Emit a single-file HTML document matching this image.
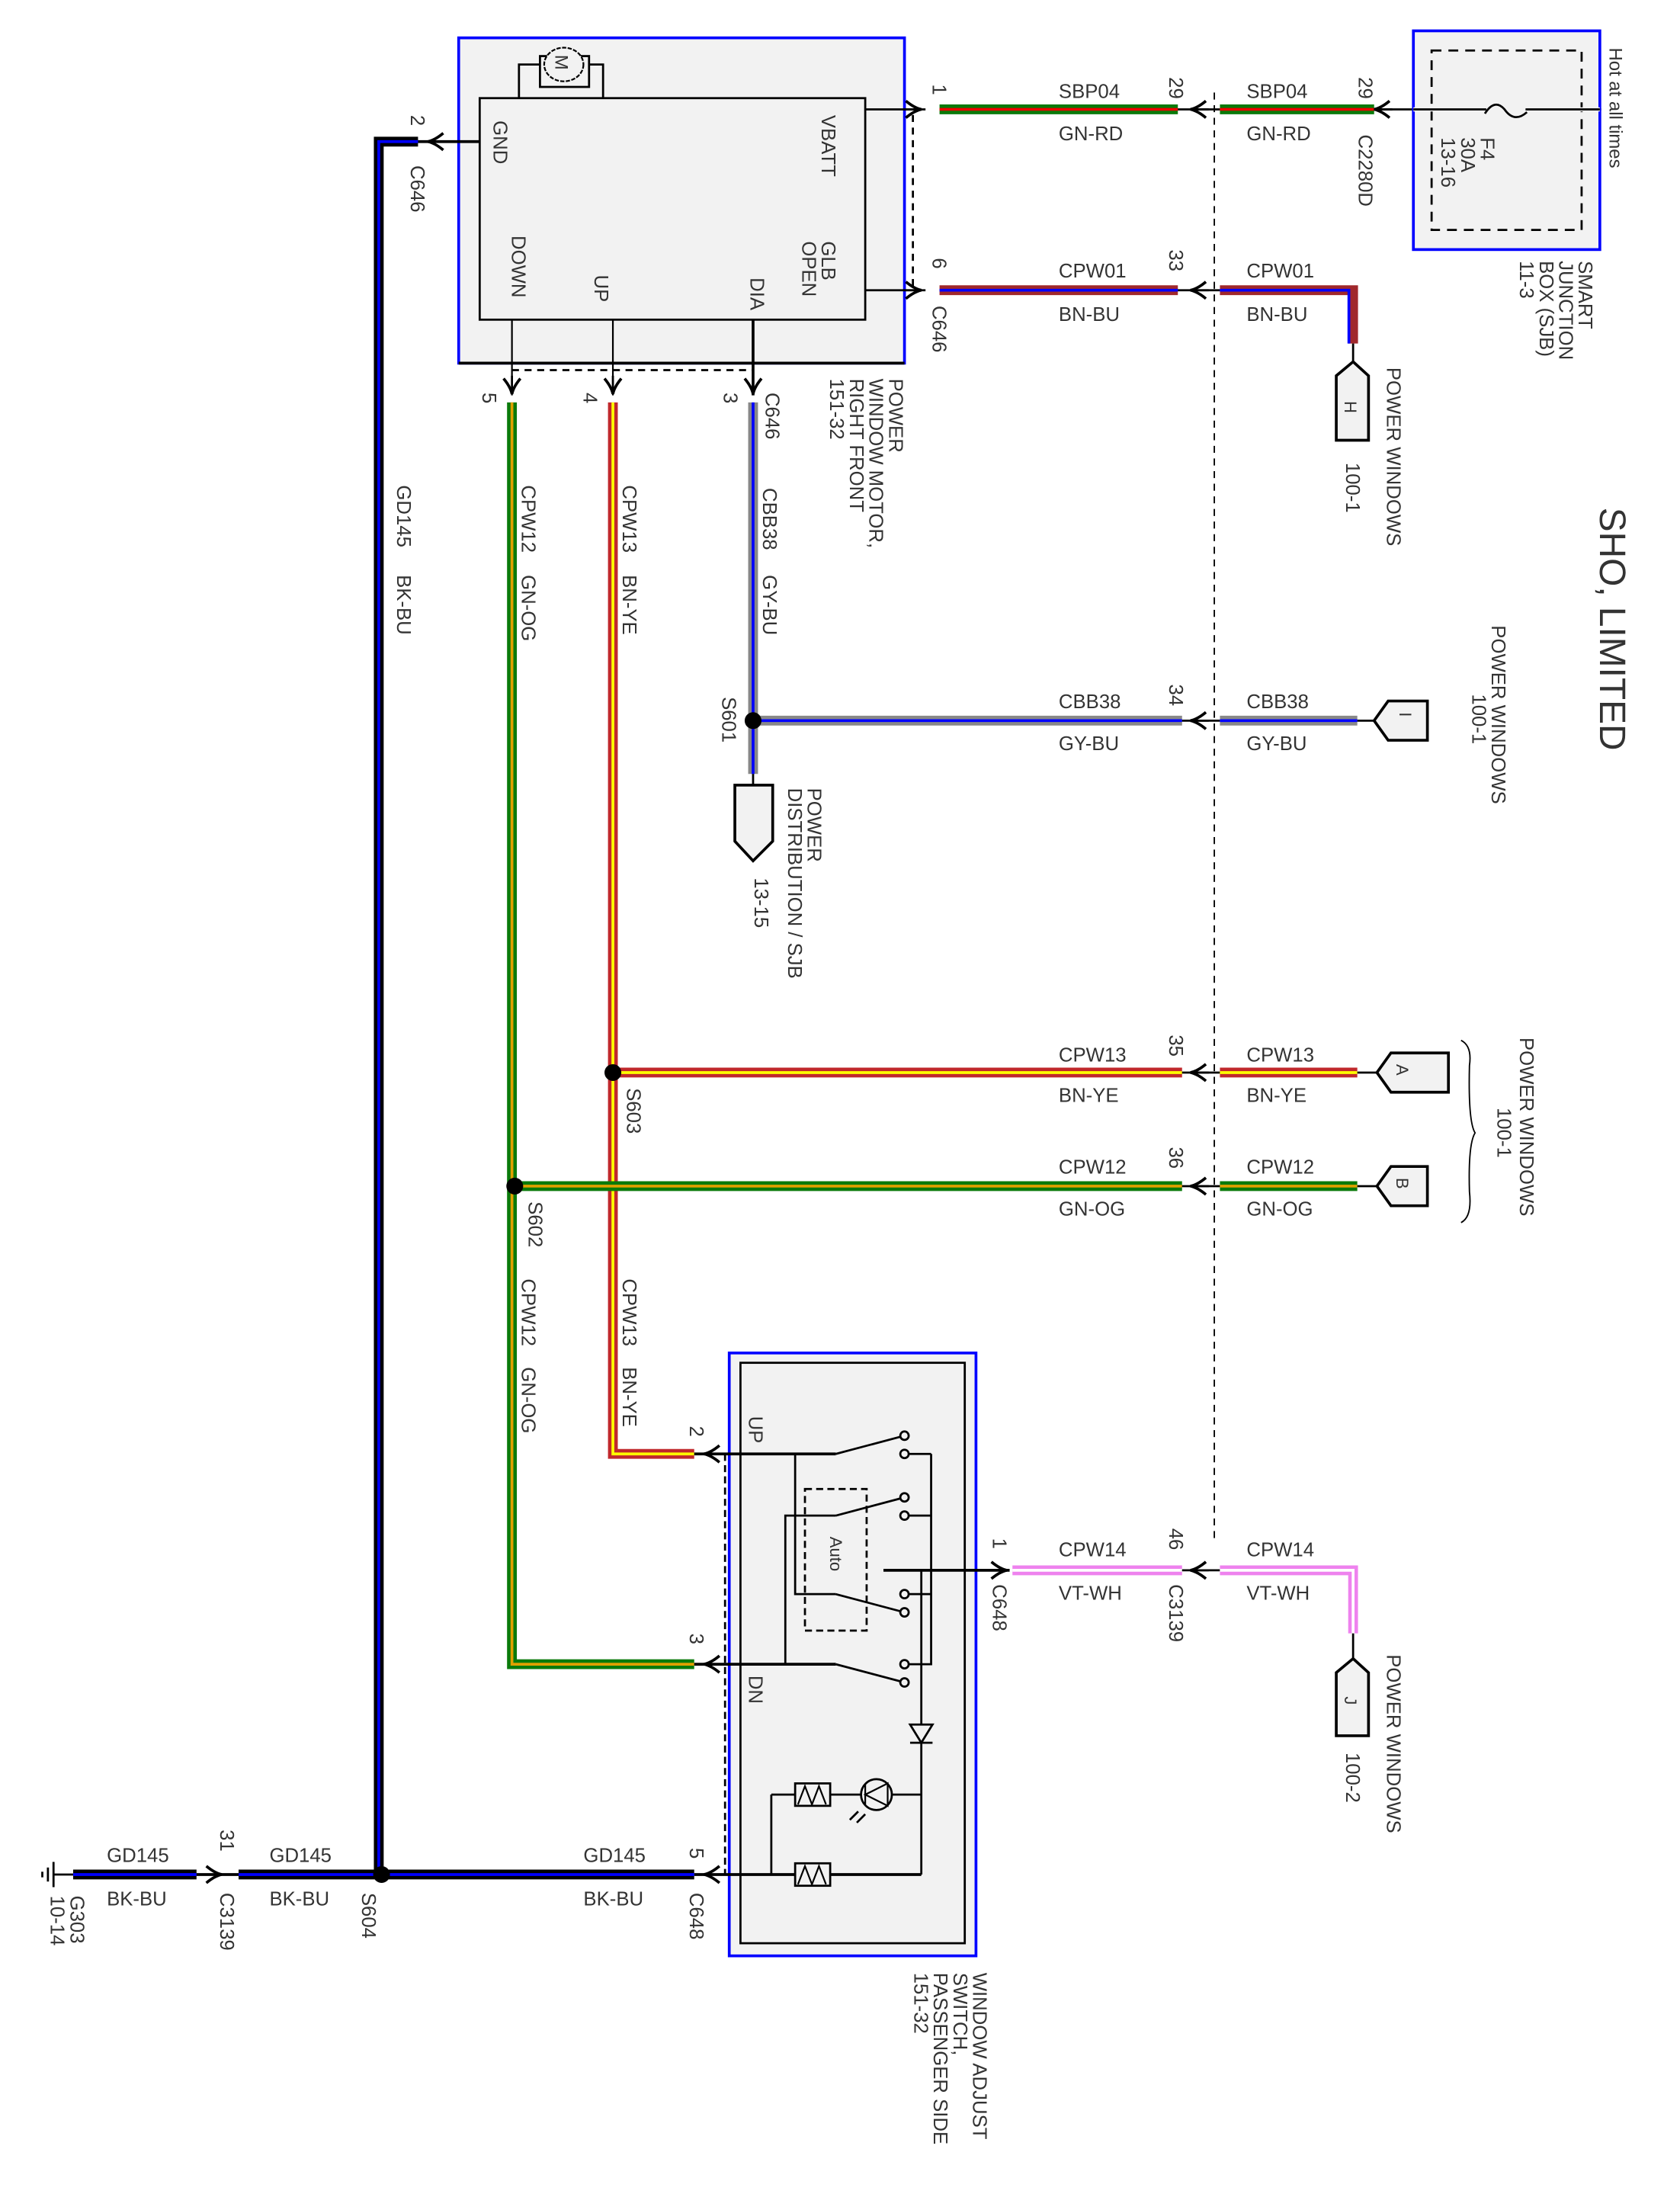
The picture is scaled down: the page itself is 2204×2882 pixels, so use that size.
<!DOCTYPE html>
<html><head><meta charset="utf-8"><style>
html,body{margin:0;padding:0;background:#fff}
svg{display:block}
text{font-family:"Liberation Sans",sans-serif;font-size:14px;fill:#333}
</style></head><body>
<svg width="2204" height="2882" viewBox="0 0 1198 1567" xmlns="http://www.w3.org/2000/svg">
<defs>
<g id="al"><path d="M8,-6 Q2,-1 -3,0 Q2,1 8,6" fill="none" stroke="#000" stroke-width="2"/><line x1="-3" y1="0" x2="10" y2="0" stroke="#000" stroke-width="1.5"/></g>
</defs>
<!-- Motor module -->
<rect x="327" y="27" width="318" height="232" fill="#f2f2f2" stroke="#0000ff" stroke-width="2"/>
<line x1="327" y1="259" x2="645" y2="259" stroke="#000" stroke-width="2"/>
<rect x="342" y="70" width="275" height="158" fill="#f2f2f2" stroke="#000" stroke-width="1.5"/>
<polyline points="370,70 370,46 385,46" fill="none" stroke="#000" stroke-width="1.5"/>
<polyline points="420,46 430,46 430,70" fill="none" stroke="#000" stroke-width="1.5"/>
<rect x="385" y="40" width="35" height="22" fill="#f2f2f2" stroke="#000" stroke-width="1.5"/>
<ellipse cx="402" cy="46" rx="14" ry="12" fill="#f2f2f2" stroke="#000" stroke-width="1.2" stroke-dasharray="3,1"/>
<text transform="translate(396,39) rotate(90)" style="font-size:13px">M</text>
<text transform="translate(362,86) rotate(90)" y="10">GND</text>
<text transform="translate(594,82) rotate(90)" y="8">VBATT</text>
<text transform="translate(594,172) rotate(90)" y="8">GLB<tspan x="0" dy="14">OPEN</tspan></text>
<text transform="translate(373,168) rotate(90)" y="8">DOWN</text>
<text transform="translate(432,196) rotate(90)" y="8">UP</text>
<text transform="translate(543,198) rotate(90)" y="8">DIA</text>
<text transform="translate(642,270) rotate(90)" y="8">POWER<tspan x="0" dy="14">WINDOW MOTOR,</tspan><tspan x="0" dy="14">RIGHT FRONT</tspan><tspan x="0" dy="14">151-32</tspan></text>
<!-- pin lines out -->
<line x1="617" y1="78" x2="660" y2="78" stroke="#000" stroke-width="1.5"/>
<line x1="617" y1="207" x2="660" y2="207" stroke="#000" stroke-width="1.5"/>
<line x1="651" y1="82" x2="651" y2="207" stroke="#000" stroke-width="1.5" stroke-dasharray="5,4"/>
<line x1="365" y1="228" x2="365" y2="282" stroke="#000" stroke-width="1.2"/>
<line x1="437" y1="228" x2="437" y2="282" stroke="#000" stroke-width="1.2"/>
<line x1="537" y1="228" x2="537" y2="282" stroke="#000" stroke-width="2"/>
<line x1="365" y1="264" x2="537" y2="264" stroke="#000" stroke-width="1.5" stroke-dasharray="5,4"/>
<use href="#al" transform="translate(654,78) rotate(180)"/>
<use href="#al" transform="translate(654,207) rotate(180)"/>
<use href="#al" transform="translate(365,278) rotate(-90)"/>
<use href="#al" transform="translate(437,278) rotate(-90)"/>
<use href="#al" transform="translate(537,278) rotate(-90)"/>
<text transform="translate(673,60) rotate(90)" y="8">1</text>
<text transform="translate(673,184) rotate(90)" y="8">6</text>
<text transform="translate(673,218) rotate(90)" y="8">C646</text>
<text transform="translate(344,280) rotate(90)">5</text>
<text transform="translate(416,280) rotate(90)">4</text>
<text transform="translate(516,280) rotate(90)">3</text>
<text transform="translate(558,280) rotate(90)" y="12">C646</text>

<!-- GND wire -->
<line x1="298" y1="101" x2="342" y2="101" stroke="#000" stroke-width="2"/>
<use href="#al" transform="translate(308,101)"/>
<text transform="translate(303,82) rotate(90)" y="10">2</text>
<text transform="translate(303,118) rotate(90)" y="10">C646</text>
<polyline points="298,101 270,101 270,1337" fill="none" stroke="#000" stroke-width="7"/>
<polyline points="298,101 270,101 270,1337" fill="none" stroke="#0000ff" stroke-width="2"/>
<text transform="translate(291,346) rotate(90)" y="8">GD145</text>
<text transform="translate(291,410) rotate(90)" y="8">BK-BU</text>

<!-- dashed vertical connector line -->
<line x1="866" y1="66" x2="866" y2="1100" stroke="#000" stroke-width="1" stroke-dasharray="5,4"/>

<!-- SBP04 -->
<line x1="670" y1="78" x2="840" y2="78" stroke="#0a7a0a" stroke-width="7"/>
<line x1="670" y1="78" x2="840" y2="78" stroke="#e00" stroke-width="2"/>
<line x1="840" y1="78" x2="870" y2="78" stroke="#000" stroke-width="1.5"/>
<use href="#al" transform="translate(852,78)"/>
<line x1="870" y1="78" x2="980" y2="78" stroke="#0a7a0a" stroke-width="7"/>
<line x1="870" y1="78" x2="980" y2="78" stroke="#e00" stroke-width="2"/>
<line x1="980" y1="78" x2="1142" y2="78" stroke="#000" stroke-width="1.5"/>
<use href="#al" transform="translate(983,78)"/>
<text x="755" y="70">SBP04</text><text x="755" y="100">GN-RD</text>
<text x="889" y="70">SBP04</text><text x="889" y="100">GN-RD</text>
<text transform="translate(842,55) rotate(90)" y="8">29</text>
<text transform="translate(977,55) rotate(90)" y="8">29</text>
<text transform="translate(977,96) rotate(90)" y="8">C2280D</text>
<!-- SJB -->
<rect x="1008" y="22" width="133" height="156" fill="#f2f2f2" stroke="#0000ff" stroke-width="2"/>
<rect x="1021" y="36" width="107" height="128" fill="none" stroke="#000" stroke-width="1.5" stroke-dasharray="7,5"/>
<line x1="1008" y1="78" x2="1141" y2="78" stroke="#f2f2f2" stroke-width="3"/>
<line x1="1008" y1="78" x2="1141" y2="78" stroke="#000" stroke-width="1.5"/>
<line x1="1060" y1="78" x2="1088" y2="78" stroke="#f2f2f2" stroke-width="3"/>
<path d="M1059,81 Q1066,70 1073,78 Q1080,88 1089,80" fill="none" stroke="#000" stroke-width="1.5"/>
<text transform="translate(1064,98) rotate(90)" y="8">F4<tspan x="0" dy="14">30A</tspan><tspan x="0" dy="14">13-16</tspan></text>
<text transform="translate(1147,34) rotate(90)" style="font-size:13px" y="-1">Hot at all times</text>
<text transform="translate(1134,186) rotate(90)" y="8">SMART<tspan x="0" dy="14">JUNCTION</tspan><tspan x="0" dy="14">BOX (SJB)</tspan><tspan x="0" dy="14">11-3</tspan></text>

<!-- CPW01 -->
<line x1="670" y1="207" x2="840" y2="207" stroke="#a0282c" stroke-width="7"/>
<line x1="670" y1="207" x2="840" y2="207" stroke="#0000ff" stroke-width="2"/>
<line x1="840" y1="207" x2="870" y2="207" stroke="#000" stroke-width="1.5"/>
<use href="#al" transform="translate(852,207)"/>
<polyline points="870,207 965,207 965,245" fill="none" stroke="#a0282c" stroke-width="7"/>
<polyline points="870,207 962,207 962,245" fill="none" stroke="#0000ff" stroke-width="2"/>
<line x1="965" y1="245" x2="965" y2="258" stroke="#000" stroke-width="1.5"/>
<path d="M965,258 L976,268 L976,314 L953,314 L953,268 Z" fill="#f2f2f2" stroke="#000" stroke-width="2"/>
<text transform="translate(959,286) rotate(90)" style="font-size:12px">H</text>
<text x="755" y="198">CPW01</text><text x="755" y="229">BN-BU</text>
<text x="889" y="198">CPW01</text><text x="889" y="229">BN-BU</text>
<text transform="translate(842,178) rotate(90)" y="8">33</text>
<text transform="translate(994,262) rotate(90)" y="5">POWER WINDOWS</text>
<text transform="translate(970,330) rotate(90)" y="10">100-1</text>

<text transform="translate(1140,362) rotate(90)" style="font-size:26px" y="-1">SHO, LIMITED</text>

<!-- CBB38 -->
<line x1="537" y1="287" x2="537" y2="552" stroke="#888" stroke-width="7"/>
<line x1="537" y1="287" x2="537" y2="552" stroke="#0000ff" stroke-width="2"/>
<line x1="537" y1="552" x2="537" y2="560" stroke="#000" stroke-width="1.5"/>
<path d="M524,560 L551,560 L551,600 L537,614 L524,600 Z" fill="#f2f2f2" stroke="#000" stroke-width="2"/>
<text transform="translate(550,348) rotate(90)" y="6">CBB38</text>
<text transform="translate(550,410) rotate(90)" y="6">GY-BU</text>
<line x1="537" y1="514" x2="843" y2="514" stroke="#888" stroke-width="7"/>
<line x1="537" y1="514" x2="843" y2="514" stroke="#0000ff" stroke-width="2"/>
<line x1="843" y1="514" x2="870" y2="514" stroke="#000" stroke-width="1.5"/>
<use href="#al" transform="translate(852,514)"/>
<line x1="870" y1="514" x2="968" y2="514" stroke="#888" stroke-width="7"/>
<line x1="870" y1="514" x2="968" y2="514" stroke="#0000ff" stroke-width="2"/>
<line x1="968" y1="514" x2="980" y2="514" stroke="#000" stroke-width="1.5"/>
<path d="M980,514 L990,500 L1018,500 L1018,528 L990,528 Z" fill="#f2f2f2" stroke="#000" stroke-width="2"/>
<text transform="translate(998,508) rotate(90)" style="font-size:12px">I</text>
<circle cx="537" cy="514" r="6" fill="#000"/>
<text transform="translate(523,497) rotate(90)" y="8">S601</text>
<text x="755" y="505">CBB38</text><text x="755" y="535">GY-BU</text>
<text x="889" y="505">CBB38</text><text x="889" y="535">GY-BU</text>
<text transform="translate(842,488) rotate(90)" y="8">34</text>
<text transform="translate(1072,446) rotate(90)" y="8">POWER WINDOWS</text>
<text transform="translate(1058,495) rotate(90)" y="8">100-1</text>
<text transform="translate(584,562) rotate(90)" y="8">POWER<tspan x="0" dy="14">DISTRIBUTION / SJB</tspan></text>
<text transform="translate(546,626) rotate(90)" y="8">13-15</text>

<!-- CPW13 -->
<polyline points="437,287 437,1037 495,1037" fill="none" stroke="#c0282c" stroke-width="7"/>
<polyline points="437,287 437,1037 495,1037" fill="none" stroke="#ffff00" stroke-width="2"/>
<text transform="translate(450,346) rotate(90)" y="6">CPW13</text>
<text transform="translate(450,410) rotate(90)" y="6">BN-YE</text>
<text transform="translate(450,912) rotate(90)" y="6">CPW13</text>
<text transform="translate(450,975) rotate(90)" y="6">BN-YE</text>
<line x1="437" y1="765" x2="843" y2="765" stroke="#c0282c" stroke-width="7"/>
<line x1="437" y1="765" x2="843" y2="765" stroke="#ffff00" stroke-width="2"/>
<line x1="843" y1="765" x2="870" y2="765" stroke="#000" stroke-width="1.5"/>
<use href="#al" transform="translate(852,765)"/>
<line x1="870" y1="765" x2="968" y2="765" stroke="#c0282c" stroke-width="7"/>
<line x1="870" y1="765" x2="968" y2="765" stroke="#ffff00" stroke-width="2"/>
<line x1="968" y1="765" x2="982" y2="765" stroke="#000" stroke-width="1.5"/>
<path d="M982,765 L992,751 L1033,751 L1033,779 L992,779 Z" fill="#f2f2f2" stroke="#000" stroke-width="2"/>
<text transform="translate(996,759) rotate(90)" style="font-size:12px">A</text>
<circle cx="437" cy="765" r="6" fill="#000"/>
<text transform="translate(455,776) rotate(90)" y="8">S603</text>
<text x="755" y="757">CPW13</text><text x="755" y="786">BN-YE</text>
<text x="889" y="757">CPW13</text><text x="889" y="786">BN-YE</text>
<text transform="translate(842,738) rotate(90)" y="8">35</text>

<!-- CPW12 -->
<polyline points="365,287 365,1187 495,1187" fill="none" stroke="#0a7a0a" stroke-width="7"/>
<polyline points="365,287 365,1187 495,1187" fill="none" stroke="#e0a000" stroke-width="2"/>
<text transform="translate(378,346) rotate(90)" y="6">CPW12</text>
<text transform="translate(378,410) rotate(90)" y="6">GN-OG</text>
<text transform="translate(378,912) rotate(90)" y="6">CPW12</text>
<text transform="translate(378,975) rotate(90)" y="6">GN-OG</text>
<line x1="365" y1="846" x2="843" y2="846" stroke="#0a7a0a" stroke-width="7"/>
<line x1="365" y1="846" x2="843" y2="846" stroke="#e0a000" stroke-width="2"/>
<line x1="843" y1="846" x2="870" y2="846" stroke="#000" stroke-width="1.5"/>
<use href="#al" transform="translate(852,846)"/>
<line x1="870" y1="846" x2="968" y2="846" stroke="#0a7a0a" stroke-width="7"/>
<line x1="870" y1="846" x2="968" y2="846" stroke="#e0a000" stroke-width="2"/>
<line x1="968" y1="846" x2="982" y2="846" stroke="#000" stroke-width="1.5"/>
<path d="M982,846 L992,832 L1018,832 L1018,860 L992,860 Z" fill="#f2f2f2" stroke="#000" stroke-width="2"/>
<text transform="translate(996,840) rotate(90)" style="font-size:12px">B</text>
<circle cx="367" cy="846" r="6" fill="#000"/>
<text transform="translate(385,857) rotate(90)" y="8">S602</text>
<text x="755" y="837">CPW12</text><text x="755" y="867">GN-OG</text>
<text x="889" y="837">CPW12</text><text x="889" y="867">GN-OG</text>
<text transform="translate(842,818) rotate(90)" y="8">36</text>
<path d="M1042,742 Q1050,746 1048,760 Q1047,800 1052,808 Q1047,816 1048,850 Q1050,868 1042,872" fill="none" stroke="#000" stroke-width="1"/>
<text transform="translate(1092,740) rotate(90)" y="8">POWER WINDOWS</text>
<text transform="translate(1076,790) rotate(90)" y="8">100-1</text>

<!-- Switch -->
<rect x="520" y="965" width="176" height="430" fill="#f2f2f2" stroke="#0000ff" stroke-width="2"/>
<rect x="528" y="972" width="160" height="414" fill="none" stroke="#000" stroke-width="1.5"/>
<line x1="517" y1="1037" x2="517" y2="1337" stroke="#000" stroke-width="1.5" stroke-dasharray="5,3"/>
<line x1="495" y1="1037" x2="596" y2="1037" stroke="#000" stroke-width="2"/>
<line x1="495" y1="1187" x2="596" y2="1187" stroke="#000" stroke-width="2"/>
<use href="#al" transform="translate(505,1037)"/>
<use href="#al" transform="translate(505,1187)"/>
<use href="#al" transform="translate(505,1337)"/>
<text transform="translate(500,1017) rotate(90)" y="8">2</text>
<text transform="translate(500,1165) rotate(90)" y="8">3</text>
<text transform="translate(500,1318) rotate(90)" y="8">5</text>
<text transform="translate(538,1010) rotate(90)" y="4">UP</text>
<text transform="translate(538,1195) rotate(90)" y="4">DN</text>
<!-- switch contacts -->
<g stroke="#000" stroke-width="1.5" fill="#f2f2f2">
<line x1="596" y1="1037" x2="645" y2="1024"/>
<line x1="646" y1="1037" x2="664" y2="1037"/>
<polyline points="664,1037 664,1187 646,1187" fill="none"/>
<line x1="596" y1="1081" x2="645" y2="1068"/>
<line x1="646" y1="1081" x2="664" y2="1081"/>
<line x1="596" y1="1137" x2="645" y2="1150"/>
<line x1="646" y1="1137" x2="664" y2="1137"/>
<line x1="596" y1="1187" x2="645" y2="1200"/>
<polyline points="567,1037 567,1137 596,1137" fill="none"/>
<polyline points="596,1081 560,1081 560,1187" fill="none"/>
<rect x="574" y="1062" width="44" height="101" fill="none" stroke-dasharray="5,3"/>
<circle cx="645" cy="1024" r="3"/><circle cx="645" cy="1037" r="3"/>
<circle cx="645" cy="1068" r="3"/><circle cx="645" cy="1081" r="3"/>
<circle cx="645" cy="1137" r="3"/><circle cx="645" cy="1150" r="3"/>
<circle cx="645" cy="1187" r="3"/><circle cx="645" cy="1200" r="3"/>
</g>
<text transform="translate(592,1096) rotate(90)" style="font-size:12px">Auto</text>
<line x1="630" y1="1120" x2="720" y2="1120" stroke="#000" stroke-width="2"/>
<use href="#al" transform="translate(715,1120) rotate(180)"/>
<line x1="657" y1="1120" x2="657" y2="1337" stroke="#000" stroke-width="1.5"/>
<path d="M649,1230 L665,1230 L657,1243 Z" fill="#f2f2f2" stroke="#000" stroke-width="1.5"/>
<line x1="649" y1="1243" x2="665" y2="1243" stroke="#000" stroke-width="1.5"/>
<line x1="550" y1="1280" x2="657" y2="1280" stroke="#000" stroke-width="1.5"/>
<line x1="550" y1="1280" x2="550" y2="1337" stroke="#000" stroke-width="1.5"/>
<line x1="495" y1="1337" x2="657" y2="1337" stroke="#000" stroke-width="2"/>
<rect x="567" y="1272" width="25" height="16" fill="#f2f2f2" stroke="#000" stroke-width="1.5"/>
<polyline points="569,1287 574,1274 579,1287 584,1274 589,1287" fill="none" stroke="#000" stroke-width="1.2"/>
<rect x="567" y="1329" width="25" height="16" fill="#f2f2f2" stroke="#000" stroke-width="1.5"/>
<polyline points="569,1344 574,1331 579,1344 584,1331 589,1344" fill="none" stroke="#000" stroke-width="1.2"/>
<circle cx="625" cy="1280" r="11" fill="#f2f2f2" stroke="#000" stroke-width="1.5"/>
<path d="M617,1280 L633,1272 L633,1288 Z" fill="none" stroke="#000" stroke-width="1.2"/>
<line x1="617" y1="1273" x2="617" y2="1287" stroke="#000" stroke-width="1.2"/>
<line x1="612" y1="1292" x2="606" y2="1298" stroke="#000" stroke-width="1.5"/>
<line x1="617" y1="1294" x2="611" y2="1300" stroke="#000" stroke-width="1.5"/>
<text transform="translate(702,1407) rotate(90)" y="8">WINDOW ADJUST<tspan x="0" dy="14">SWITCH,</tspan><tspan x="0" dy="14">PASSENGER SIDE</tspan><tspan x="0" dy="14">151-32</tspan></text>

<!-- CPW14 -->
<line x1="722" y1="1120" x2="843" y2="1120" stroke="#ee82ee" stroke-width="7"/>
<line x1="722" y1="1120" x2="843" y2="1120" stroke="#fff" stroke-width="2"/>
<line x1="843" y1="1120" x2="870" y2="1120" stroke="#000" stroke-width="1.5"/>
<use href="#al" transform="translate(852,1120)"/>
<polyline points="870,1120 965,1120 965,1165" fill="none" stroke="#ee82ee" stroke-width="7"/>
<polyline points="870,1120 965,1120 965,1165" fill="none" stroke="#fff" stroke-width="2"/>
<line x1="965" y1="1165" x2="965" y2="1183" stroke="#000" stroke-width="1.5"/>
<path d="M965,1183 L976,1193 L976,1238 L953,1238 L953,1193 Z" fill="#f2f2f2" stroke="#000" stroke-width="2"/>
<text transform="translate(959,1210) rotate(90)" style="font-size:12px">J</text>
<text x="755" y="1110">CPW14</text><text x="755" y="1141">VT-WH</text>
<text x="889" y="1110">CPW14</text><text x="889" y="1141">VT-WH</text>
<text transform="translate(716,1097) rotate(90)" y="8">1</text>
<text transform="translate(716,1130) rotate(90)" y="8">C648</text>
<text transform="translate(842,1090) rotate(90)" y="8">46</text>
<text transform="translate(842,1130) rotate(90)" y="8">C3139</text>
<text transform="translate(994,1180) rotate(90)" y="5">POWER WINDOWS</text>
<text transform="translate(970,1250) rotate(90)" y="10">100-2</text>

<!-- GD145 bottom -->
<line x1="52" y1="1337" x2="140" y2="1337" stroke="#000" stroke-width="7"/>
<line x1="52" y1="1337" x2="140" y2="1337" stroke="#0000ff" stroke-width="2"/>
<line x1="140" y1="1337" x2="170" y2="1337" stroke="#000" stroke-width="2"/>
<use href="#al" transform="translate(155,1337) rotate(180)"/>
<line x1="170" y1="1337" x2="495" y2="1337" stroke="#000" stroke-width="7"/>
<line x1="170" y1="1337" x2="495" y2="1337" stroke="#0000ff" stroke-width="2"/>
<line x1="38" y1="1337" x2="52" y2="1337" stroke="#000" stroke-width="1.5"/>
<line x1="38" y1="1328" x2="38" y2="1346" stroke="#000" stroke-width="1.5"/>
<line x1="34" y1="1332" x2="34" y2="1342" stroke="#000" stroke-width="1.5"/>
<line x1="30" y1="1335" x2="30" y2="1339" stroke="#000" stroke-width="1.5"/>
<circle cx="272" cy="1337" r="6" fill="#000"/>
<text x="76" y="1328">GD145</text><text x="76" y="1359">BK-BU</text>
<text x="192" y="1328">GD145</text><text x="192" y="1359">BK-BU</text>
<text x="416" y="1328">GD145</text><text x="416" y="1359">BK-BU</text>
<text transform="translate(165,1305) rotate(90)" y="8">31</text>
<text transform="translate(165,1350) rotate(90)" y="8">C3139</text>
<text transform="translate(266,1350) rotate(90)" y="8">S604</text>
<text transform="translate(500,1350) rotate(90)" y="8">C648</text>
<text transform="translate(58,1352) rotate(90)" y="8">G303<tspan x="0" dy="14">10-14</tspan></text>
</svg>
</body></html>
